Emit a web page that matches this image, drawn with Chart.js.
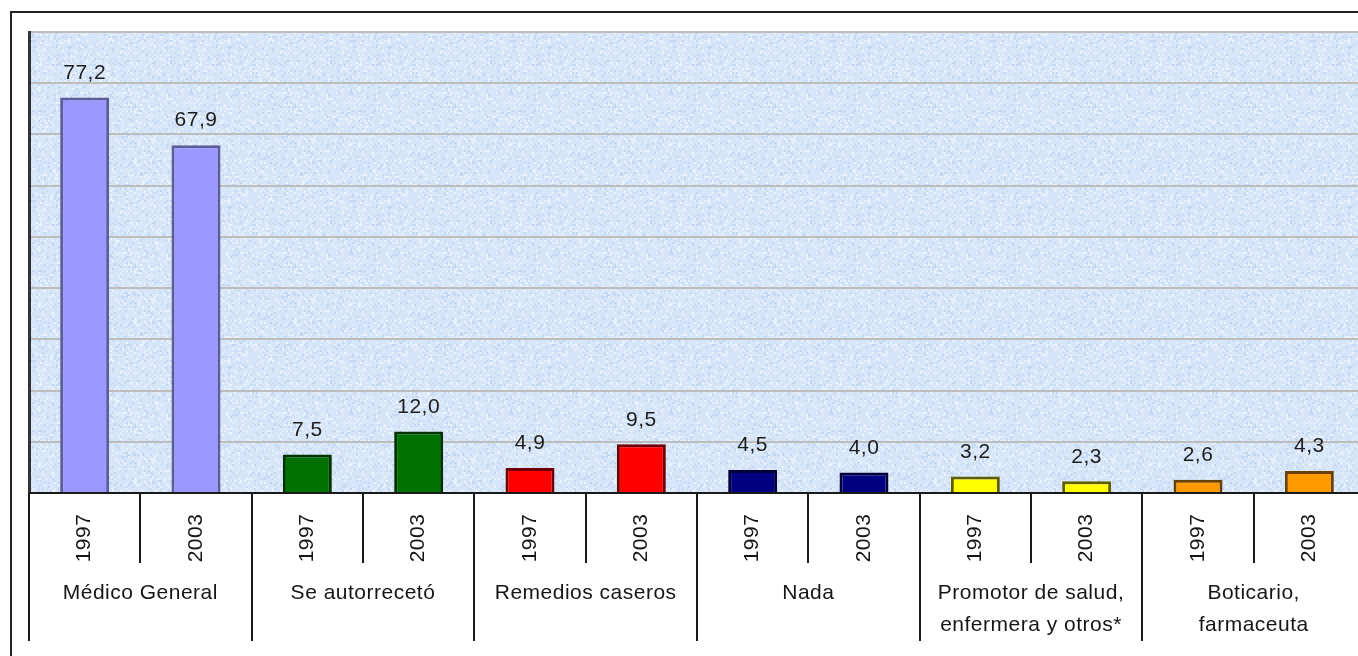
<!DOCTYPE html>
<html>
<head>
<meta charset="utf-8">
<script src="https://cdn.jsdelivr.net/npm/chart.js@4.4.1/dist/chart.umd.min.js"></script>
<style>
  html, body { margin: 0; padding: 0; background: #fff; overflow: hidden; }
  #chart { position: absolute; left: 0; top: 0; }
</style>
</head>
<body>
<canvas id="chart" width="1380" height="656"></canvas>
<script>
// Categories and values
const groups = ['Médico General', 'Se autorrecetó', 'Remedios caseros', 'Nada',
  ['Promotor de salud,', 'enfermera y otros*'], ['Boticario,', 'farmaceuta']];
const years = ['1997', '2003'];
const values1997 = [77.2, 7.5, 4.9, 4.5, 3.2, 2.6];
const values2003 = [67.9, 12.0, 9.5, 4.0, 2.3, 4.3];
const fillColors = ['#9999FF', '#007000', '#FF0000', '#000080', '#FFFF00', '#FF9900'];
const edgeColors = ['#5C5C99', '#003300', '#700000', '#000038', '#5E5E00', '#6A4000'];
const yTicks = { min: 0, max: 90, step: 10 };

// one bar per group/year pair
const labels = [];
const values = [];
const barFill = [];
const barEdge = [];
groups.forEach((g, i) => {
    years.forEach((y, j) => {
        labels.push(y);
        values.push(j === 0 ? values1997[i] : values2003[i]);
        barFill.push(fillColors[i]);
        barEdge.push(edgeColors[i]);
    });
});

const FONT = '21px "Liberation Sans", Arial, sans-serif';

// mottled light blue texture for the plot area
function makeTexture() {
    const c = document.createElement('canvas');
    c.width = 160; c.height = 160;
    const t = c.getContext('2d');
    t.fillStyle = '#D6E6F8';
    t.fillRect(0, 0, 160, 160);
    const hash = (x, y) => {
        const s = Math.sin(x * 127.1 + y * 311.7) * 43758.5453;
        return s - Math.floor(s);
    };
    for (let y = 0; y < 160; y += 2) {
        for (let x = 0; x < 160; x += 2) {
            const h = hash(x, y);
            if (h > 0.7) {
                t.fillStyle = 'rgba(255,255,255,' + ((h - 0.7) * 1.8).toFixed(2) + ')';
                t.fillRect(x, y, 2, 2);
            } else if (h < 0.2) {
                t.fillStyle = 'rgba(150,185,232,' + ((0.2 - h) * 1.8).toFixed(2) + ')';
                t.fillRect(x, y, 2, 2);
            }
        }
    }
    return c;
}

const decorPlugin = {
    id: 'decor',
    beforeDraw(chart) {
        const ctx = chart.ctx;
        const a = chart.chartArea;
        ctx.save();
        ctx.fillStyle = '#fff';
        ctx.fillRect(0, 0, chart.width, chart.height);
        // outer frame
        ctx.strokeStyle = '#222';
        ctx.lineWidth = 2;
        ctx.beginPath();
        ctx.moveTo(11, chart.height);
        ctx.lineTo(11, 12);
        ctx.lineTo(chart.width, 12);
        ctx.stroke();
        // plot background
        ctx.fillStyle = ctx.createPattern(makeTexture(), 'repeat');
        ctx.fillRect(a.left, a.top, a.right - a.left, a.bottom - a.top);
        ctx.restore();
    },
    afterDraw(chart) {
        const ctx = chart.ctx;
        const a = chart.chartArea;
        const x = chart.scales.x;
        const step = x.getPixelForValue(1) - x.getPixelForValue(0);
        ctx.save();
        // category axis line
        ctx.strokeStyle = '#1a1a1a';
        ctx.lineWidth = 2;
        ctx.beginPath();
        ctx.moveTo(a.left, a.bottom);
        ctx.lineTo(a.right, a.bottom);
        ctx.stroke();
        // separators: short between years, long between groups
        for (let i = 0; i <= labels.length; i++) {
            const px = Math.round(x.getPixelForValue(i) - step / 2);
            const long = i % years.length === 0;
            ctx.beginPath();
            ctx.moveTo(px, a.bottom);
            ctx.lineTo(px, long ? a.bottom + 148 : a.bottom + 70);
            ctx.stroke();
        }
        ctx.fillStyle = '#151515';
        ctx.font = FONT;
        ctx.letterSpacing = '0.5px';
        ctx.textAlign = 'center';
        ctx.textBaseline = 'middle';
        // rotated year labels
        labels.forEach((lab, i) => {
            ctx.save();
            ctx.translate(x.getPixelForValue(i), a.bottom + 45);
            ctx.rotate(-Math.PI / 2);
            ctx.fillText(lab, 0, 0);
            ctx.restore();
        });
        // group labels
        groups.forEach((g, gi) => {
            const cx = (x.getPixelForValue(gi * 2) + x.getPixelForValue(gi * 2 + 1)) / 2;
            const lines = Array.isArray(g) ? g : [g];
            lines.forEach((ln, li) => ctx.fillText(ln, cx, a.bottom + 100 + li * 32));
        });
        ctx.restore();
    },
    afterDatasetsDraw(chart) {
        const ctx = chart.ctx;
        const meta = chart.getDatasetMeta(0);
        ctx.save();
        ctx.fillStyle = '#1c1c1c';
        ctx.font = FONT;
        ctx.letterSpacing = '0.5px';
        ctx.textAlign = 'center';
        ctx.textBaseline = 'bottom';
        meta.data.forEach((bar, i) => {
            ctx.fillText(values[i].toFixed(1).replace('.', ','), bar.x, bar.y - 14);
        });
        ctx.restore();
    }
};

const ctx = document.getElementById('chart').getContext('2d');
new Chart(ctx, {
    type: 'bar',
    data: {
        labels: labels,
        datasets: [{
            data: values,
            backgroundColor: barFill,
            borderColor: barEdge,
            borderWidth: 3,
            categoryPercentage: 1,
            barPercentage: 0.44
        }]
    },
    options: {
        responsive: false,
        devicePixelRatio: 1,
        animation: false,
        layout: {
            padding: { left: 29, top: 32, right: 15, bottom: 163 }
        },
        plugins: {
            legend: { display: false },
            tooltip: { enabled: false }
        },
        scales: {
            x: {
                display: false
            },
            y: {
                min: yTicks.min,
                max: yTicks.max,
                ticks: { display: false, stepSize: yTicks.step },
                grid: { color: '#BDBDBD', lineWidth: 2, drawTicks: false },
                border: { display: true, color: '#333', width: 3 }
            }
        }
    },
    plugins: [decorPlugin]
});
</script>
</body>
</html>
